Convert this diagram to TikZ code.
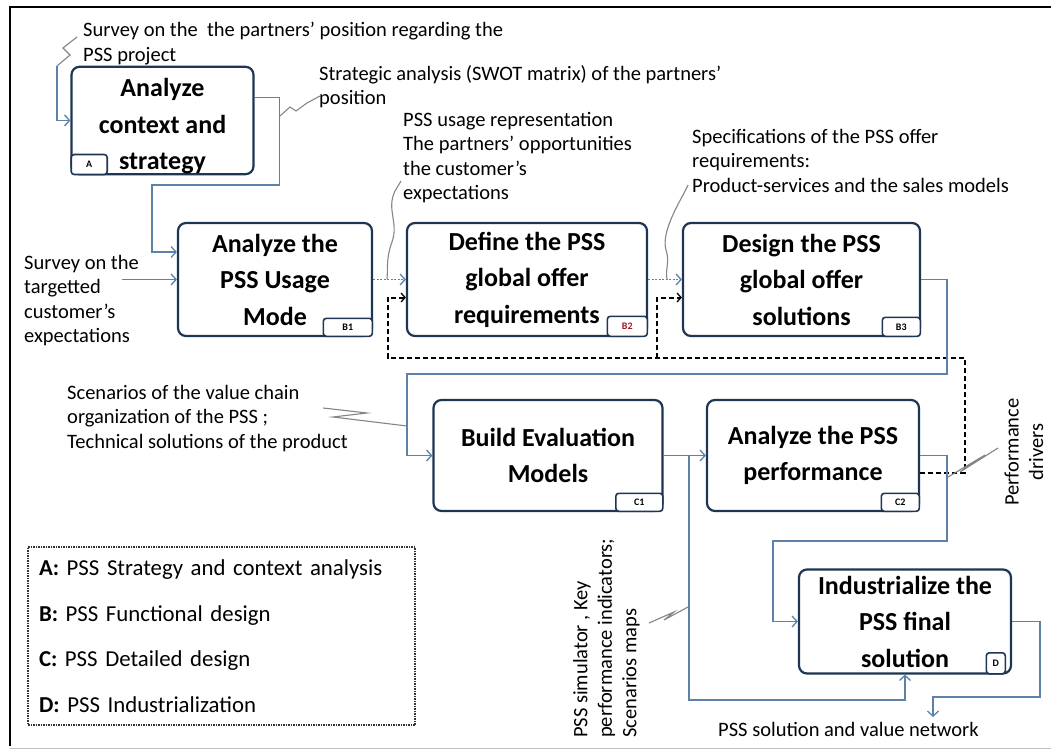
\documentclass[tikz,border=0pt]{standalone}
\usepackage{fontspec}
\setmainfont{Carlito}
\usetikzlibrary{arrows.meta}
\definecolor{navy}{HTML}{1F3554}
\definecolor{flow}{HTML}{5D82AA}
\definecolor{callgrey}{HTML}{858585}
\definecolor{tagred}{HTML}{A0191E}
\begin{document}
\begin{tikzpicture}[x=1pt,y=-1pt,
  proc/.style={draw=navy, line width=2.2pt, rounded corners=8pt, fill=white, align=center,
    font=\fontsize{26}{36.5}\selectfont\bfseries, inner sep=0pt},
  tagbox/.style={draw=navy, line width=1.6pt, rounded corners=3pt, fill=white,
    font=\fontsize{10}{12}\selectfont\bfseries, inner sep=0pt},
  lbl/.style={font=\fontsize{20.5}{24.5}\selectfont, align=left, inner sep=0pt, anchor=north west},
  tip/.style={-{Straight Barb[length=5pt,width=11pt,line width=1.3pt]}},
  flowline/.style={draw=flow, line width=1.4pt, tip},
  dotflow/.style={draw=flow, line width=1.6pt, dash pattern=on 2pt off 1.5pt, tip},
  fb/.style={draw=black, line width=2pt, dash pattern=on 5pt off 3pt,
    -{Straight Barb[length=4pt,width=9pt,line width=1.3pt]}},
  callout/.style={draw=callgrey, line width=1.1pt},
  legend/.style={draw=black!80, line width=1.2pt, dash pattern=on 1.5pt off 1pt,
    font=\fontsize{22.8}{45.5}\selectfont, align=left, inner ysep=0pt, inner xsep=11pt}
]
\useasboundingbox[fill=white] (0,0) rectangle (1051,751);
% frame
\draw[line width=2.6pt] (10,746) -- (10,7) -- (1056,7);
\draw[black!25, line width=1pt] (10,748) -- (1051,748);

% process boxes
\node[proc, minimum width=182pt, minimum height=104pt] (A) at (162.5,120.5) {\rule{0pt}{30pt}Analyze\\context and\\strategy};
\node[proc, minimum width=194pt, minimum height=113pt] (B1) at (275,279.5) {Analyze the\\PSS Usage\\Mode};
\node[proc, minimum width=240pt, minimum height=113pt] (B2) at (527,279.5) {Define the PSS\\global offer\\requirements};
\node[proc, minimum width=237pt, minimum height=113pt] (B3) at (801.5,279.5) {Design the PSS\\global offer\\solutions};
\node[proc, minimum width=229pt, minimum height=111pt] (C1) at (548,455.5) {Build Evaluation\\Models};
\node[proc, minimum width=212pt, minimum height=111pt] (C2) at (813,455.5) {Analyze the PSS\\performance};
\node[proc, minimum width=212pt, minimum height=104pt] (D) at (905,621.5) {Industrialize the\\PSS final\\solution};

% tags
\node[tagbox, minimum width=36pt, minimum height=20pt, anchor=south west] (At) at (A.south west) {A};
\node[tagbox, minimum width=49pt, minimum height=18pt, anchor=south east] (B1t) at (B1.south east) {B1};
\node[tagbox, minimum width=40pt, minimum height=20pt, anchor=south east, text=tagred] (B2t) at (B2.south east) {B2};
\node[tagbox, minimum width=38pt, minimum height=19pt, anchor=south east] (B3t) at (B3.south east) {B3};
\node[tagbox, minimum width=47pt, minimum height=18pt, anchor=south east] (C1t) at (C1.south east) {C1};
\node[tagbox, minimum width=38pt, minimum height=18pt, anchor=south east] (C2t) at (C2.south east) {C2};
\node[tagbox, minimum width=19pt, minimum height=21pt, anchor=south east] (Dt) at ([xshift=-6pt]D.south east) {D};

% labels
\node[lbl] (t1) at (83,22) {Survey on the\ \ the partners' position regarding the\\PSS project};
\node[lbl] (t2) at (319,65) {Strategic analysis (SWOT matrix) of the partners'\\position};
\node[lbl] (t3) at (403,112) {PSS usage representation\\The partners' opportunities\\the customer's\\expectations};
\node[lbl] (t4) at (692,129) {Specifications of the PSS offer\\requirements:\\Product-services and the sales models};
\node[lbl] (t5) at (24,255) {Survey on the\\targetted\\customer's\\expectations};
\node[lbl] (t6) at (67,385) {Scenarios of the value chain\\organization of the PSS ;\\Technical solutions of the product};
\node[lbl, rotate=90] (t7) at (573,738) {PSS simulator , Key\\performance indicators;\\Scenarios maps};
\node[font=\fontsize{20.5}{24.5}\selectfont, align=center, inner sep=0pt, rotate=90] (t8) at (1024,452) {Performance\\drivers};
\node[font=\fontsize{20.5}{24.5}\selectfont, inner sep=0pt, anchor=west] (t9) at (718,729) {PSS solution and value network};

% legend
\node[legend, text width=365pt, minimum height=178pt] (leg) at (221.5,636)
 {\textbf{A:} PSS Strategy and context analysis\\\textbf{B:} PSS Functional design\\\textbf{C:} PSS Detailed design\\\textbf{D:} PSS Industrialization};

% named free ends / junctions
\coordinate (sA) at (57,66);
\coordinate (sB) at (122,279.5);
\coordinate (c1j) at (689,455.5);
\coordinate (fbj) at (657,358);
\coordinate (dout) at (933,717);

% connectors
\draw[flowline] (sA) |- (A.west);
\draw[flowline] ([yshift=23pt]A.east) -- ++(25,0) |- (152,185) |- ([yshift=27.5pt]B1.west);
\draw[flowline] (sB) -- (B1.west);
\draw[dotflow] (B1.east) -- (B2.west);
\draw[dotflow] (B2.east) -- (B3.west);
\draw[fb] ([yshift=-17pt]C2.east) -| (965,358) -- (388,358) |- ([yshift=-18pt]B2.west);
\draw[fb] (fbj) |- ([yshift=-18pt]B3.west);
\draw[flowline] (B3.east) -- ++(26,0) |- (407,374) |- (C1.west);
\draw[flowline] (C1.east) -- (C2.west);
\draw[flowline] (c1j) -- (689,700) -| (D.south);
\draw[flowline] (C2.east) -- ++(27,0) |- (773,541) |- (D.west);
\draw[flowline] (D.east) -- ++(28,0) |- (dout |- 0,697) -- (dout);

% callouts
\draw[callout] (77,37) -- (63,48) -- (70,55) -- (sA);
\draw[callout] (280,116) -- (290,107) -- (296,111) -- (307,103) -- (320,96);
\draw[callout] (401,181) -- (395,191) .. controls (386,210) and (399,222) .. (392,242) .. controls (386,258) and (388,268) .. (387,279);
\draw[callout] (688,185) -- (683,195) .. controls (672,215) and (662,236) .. (666,250) .. controls (670,262) and (665,270) .. (667,279);
\draw[callout] (323,408) -- (367,413) -- (333,417) -- (407,426);
\draw[callout] (649,623) -- (674,612) -- (664,620) -- (688,607);
\draw[callout] (948,477) -- (985,455) -- (960,472) -- (998,448);
\end{tikzpicture}
\end{document}
